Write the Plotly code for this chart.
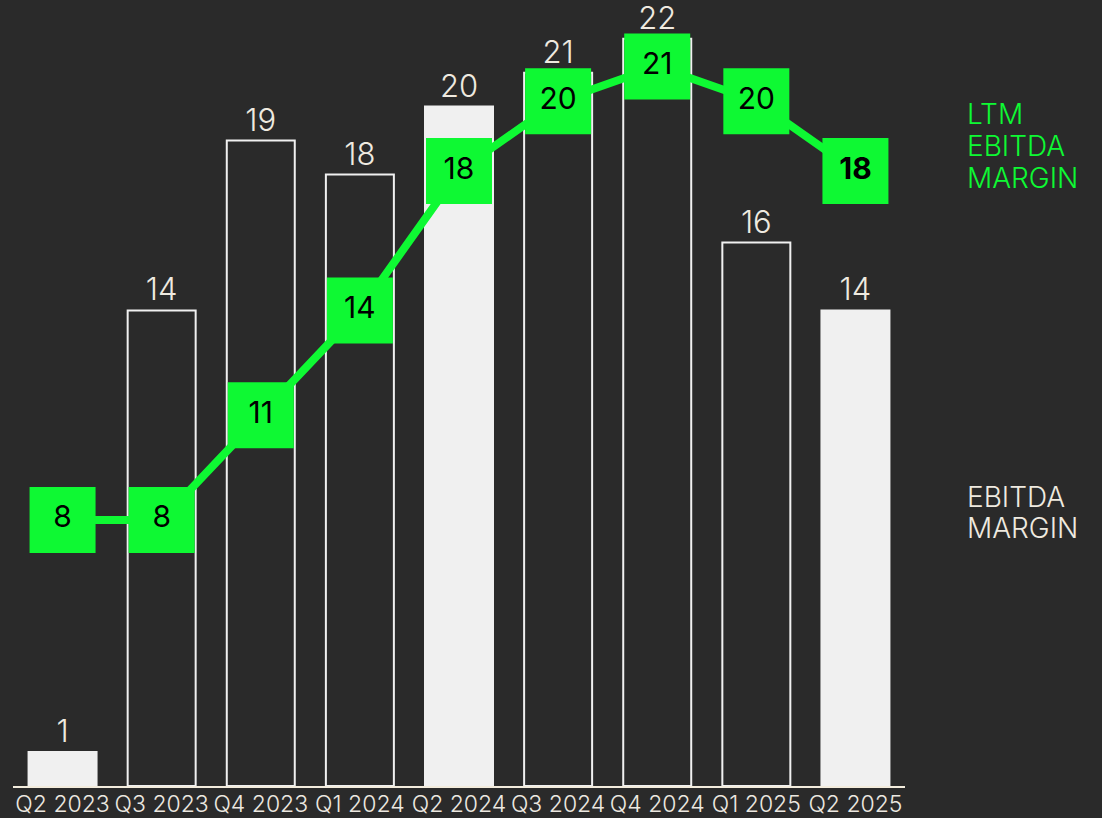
import plotly.graph_objects as go

# Quarterly EBITDA margin (%) and last-twelve-months EBITDA margin (%)
quarters = ["Q2 2023", "Q3 2023", "Q4 2023", "Q1 2024", "Q2 2024",
            "Q3 2024", "Q4 2024", "Q1 2025", "Q2 2025"]
ebitda_margin = [1, 14, 19, 18, 20, 21, 22, 16, 14]
ltm_margin = [8, 8, 11, 14, 18, 20, 21, 20, 18]
highlight_quarters = ["Q2 2023", "Q2 2024", "Q2 2025"]

BG = "#2a2a2a"
LIGHT = "#f0f0f0"
CREAM = "#efeae0"
GREEN = "#0ef933"
FONT = "Inter"

bar_fill = [LIGHT if q in highlight_quarters else BG for q in quarters]

fig = go.Figure()

fig.add_trace(go.Bar(
    x=quarters,
    y=ebitda_margin,
    marker=dict(color=bar_fill, line=dict(color=LIGHT, width=2)),
    text=[str(v) for v in ebitda_margin],
    textposition="outside",
    textfont=dict(family=FONT, size=31, color=CREAM, weight=300),
    cliponaxis=False,
    hoverinfo="skip",
))

ltm_text = [str(v) for v in ltm_margin]
ltm_text[-1] = "<b>" + ltm_text[-1] + "</b>"

fig.add_trace(go.Scatter(
    x=quarters,
    y=ltm_margin,
    yaxis="y2",
    mode="lines+markers+text",
    line=dict(color=GREEN, width=8),
    marker=dict(symbol="square", size=66, color=GREEN, line=dict(width=0)),
    text=ltm_text,
    textposition="middle center",
    textfont=dict(family=FONT, size=30, color="#000000", weight=400),
    cliponaxis=False,
    hoverinfo="skip",
))

# Side labels, one annotation per line: (text, y in pixels from the top, colour)
side_labels = [
    ("LTM", 114, GREEN), ("EBITDA", 146, GREEN), ("MARGIN", 178, GREEN),
    ("EBITDA", 497, CREAM), ("MARGIN", 528, CREAM),
]
plot_top, plot_bottom = 20, 786
annotations = [
    dict(
        text=t,
        xref="paper", yref="paper",
        x=(965 - 13) / 892, y=(plot_bottom - py) / (plot_bottom - plot_top),
        xanchor="left", yanchor="middle",
        align="left",
        showarrow=False,
        font=dict(family=FONT, size=28, color=c, weight=300),
    )
    for t, py, c in side_labels
]

fig.update_layout(
    width=1102,
    height=818,
    paper_bgcolor=BG,
    plot_bgcolor=BG,
    showlegend=False,
    bargap=0.314,
    margin=dict(l=13, r=197, t=plot_top, b=818 - plot_bottom),
    font=dict(family=FONT, color=CREAM),
    xaxis=dict(
        type="category",
        range=[-0.5, 8.5],
        automargin=False,
        showgrid=False,
        zeroline=False,
        showline=True,
        linecolor="#f3ecdd",
        linewidth=2,
        ticks="",
        ticklabelstandoff=-4,
        tickfont=dict(family=FONT, size=23, color="#ece8e0", weight=300),
    ),
    yaxis=dict(
        range=[0, 22.55],
        automargin=False,
        showgrid=False,
        zeroline=False,
        showticklabels=False,
        showline=False,
    ),
    yaxis2=dict(
        overlaying="y",
        range=[0.373, 22.33],
        automargin=False,
        showgrid=False,
        zeroline=False,
        showticklabels=False,
        showline=False,
    ),
    annotations=annotations,
)

fig.write_html("out.html")
